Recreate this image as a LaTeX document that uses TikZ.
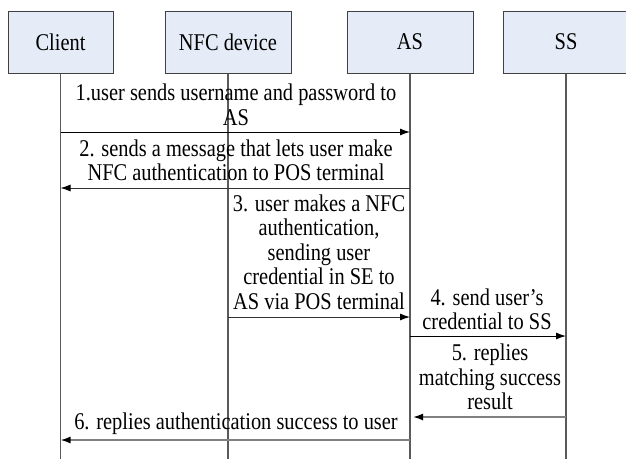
\documentclass[tikz,border=0pt]{standalone}
\usepackage{fontspec}
\newfontfamily\seqfont{Liberation Serif}[Ligatures=TeX, FakeStretch=0.85]
\usepackage{tikz}
\usetikzlibrary{positioning,calc,arrows.meta}

\definecolor{boxfill}{RGB}{230,236,247}
\definecolor{lifegray}{RGB}{90,90,90}

\tikzset{
  actor/.style={draw=black!75, fill=boxfill, line width=1pt, minimum width=126pt,
    minimum height=62pt, inner sep=0pt, font=\seqfont\fontsize{24}{24.5}\selectfont},
  life/.style={draw=lifegray, line width=1.2pt},
  msg/.style={line width=1pt, -{Latex[length=10pt,width=7pt,color=black,fill=black]}},
  msgtext/.style={align=center, inner sep=0pt, font=\seqfont\fontsize{24}{24.5}\selectfont}
}

\begin{document}
\begin{tikzpicture}[x=1pt, y=-1pt]
  \useasboundingbox (0,0) rectangle (626,459);

  % Participants
  \node[actor, minimum width=105pt] (client) at (60.5,42) {Client};
  \node[actor] (nfc) at (228,42) {NFC device};
  \node[actor] (as) at (410,42) {AS};
  \node[actor] (ss) at (566,42) {SS};

  % Lifelines
  \foreach \p in {client, nfc, as, ss} {
    \coordinate (\p-end) at (\p |- 0,459);
    \draw[life] (\p.south) -- (\p-end);
  }

  % 1. Client -> AS
  \node[msgtext] (t1) at (236,105) {1.user sends username and password to\\AS};
  \draw[msg, black] (client |- 0,132) -- (as |- 0,132);

  % 2. AS -> Client
  \node[msgtext] (t2) at (236,160.5) {2. sends a message that lets user make\\NFC authentication to POS terminal};
  \draw[msg, black!80] (as |- 0,188) -- (client |- 0,188);

  % 3. NFC device -> AS
  \node[msgtext] (t3) at (319,252) {3. user makes a NFC\\authentication,\\sending user\\credential in SE to\\AS via POS terminal};
  \draw[msg, black!80] (nfc |- 0,317) -- (as |- 0,317);

  % 4. AS -> SS
  \node[msgtext] (t4) at (487,309.5) {4. send user’s\\credential to SS};
  \draw[msg, black] (as |- 0,336) -- (ss |- 0,336);

  % 5. SS -> AS
  \node[msgtext] (t5) at (490,377) {5. replies\\matching success\\result};
  \draw[msg, gray, line width=1.6pt] (ss |- 0,417) -- ($(as |- 0,417)+(3,0)$);

  % 6. AS -> Client
  \node[msgtext] (t6) at (236,424) {6. replies authentication success to user};
  \draw[msg, gray, line width=1.6pt] (as |- 0,440) -- (client |- 0,440);
\end{tikzpicture}
\end{document}
